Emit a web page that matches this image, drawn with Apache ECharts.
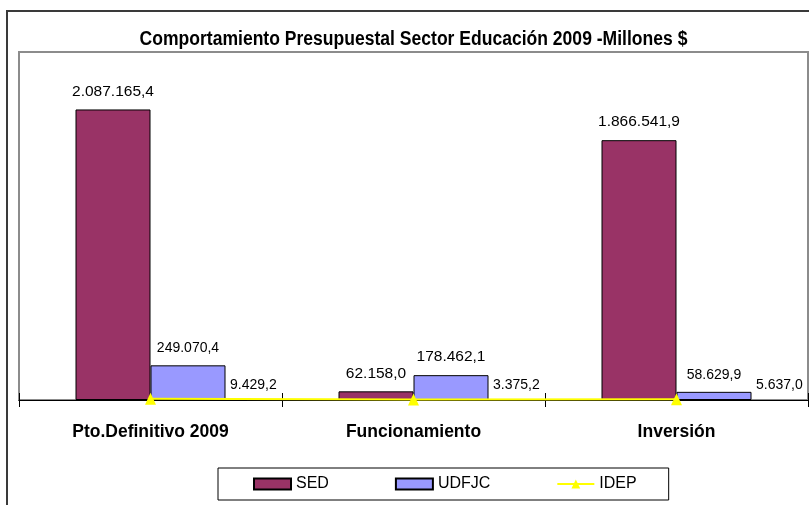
<!DOCTYPE html>
<html>
<head>
<meta charset="utf-8">
<script src="https://cdn.jsdelivr.net/npm/echarts@6/dist/echarts.min.js"></script>
<style>html,body{margin:0;padding:0;background:#fff}#c{width:809px;height:505px}</style>
</head>
<body>
<div id="c"></div>
<script>
var titleText = 'Comportamiento Presupuestal Sector Educación 2009 -Millones $';
var categories = ['Pto.Definitivo 2009', 'Funcionamiento', 'Inversión'];
var sedValues = [2087165.4, 62158.0, 1866541.9];
var udfjcValues = [249070.4, 178462.1, 58629.9];
var idepValues = [9429.2, 3375.2, 5637.0];
var seriesNames = ['SED', 'UDFJC', 'IDEP'];

function fmt(v) {
  var s = v.toFixed(1);
  var parts = s.split('.');
  var ip = parts[0].replace(/\B(?=(\d{3})+(?!\d))/g, '.');
  return ip + ',' + parts[1];
}

var REG = '"Liberation Sans", Arial, sans-serif';

var udfjcSizes = [14, 15.5, 14];

var chart = echarts.init(document.getElementById('c'), null, {renderer: 'canvas'});
chart.setOption({
  backgroundColor: '#ffffff',
  animation: false,
  graphic: [
    {type: 'rect', z: -10, shape: {x: 7, y: 11, width: 1000, height: 1000},
     style: {fill: 'none', stroke: '#3a3a3a', lineWidth: 2}},
    {type: 'text', z: 10, x: 413.5, y: 39, scaleX: 0.877, scaleY: 1,
     style: {text: titleText, align: 'center', verticalAlign: 'middle', fill: '#000',
             fontSize: 20, fontWeight: 'bold', fontFamily: REG}}
  ],
  grid: {left: 19, top: 52, right: 1, bottom: 105, show: true, borderColor: '#8c8c8c', borderWidth: 2, backgroundColor: '#fff'},
  legend: {
    left: 218, top: 468, orient: 'horizontal',
    padding: [8, 32, 8, 35], itemGap: 66,
    itemWidth: 37, itemHeight: 11,
    borderColor: '#000', borderWidth: 1,
    textStyle: {fontSize: 16, fontFamily: REG, color: '#000'},
    data: [{name: seriesNames[0], icon: 'rect'}, {name: seriesNames[1], icon: 'rect'}, {name: seriesNames[2]}]
  },
  xAxis: [
    {type: 'category', data: categories, position: 'bottom', boundaryGap: true,
     axisLine: {show: true, lineStyle: {color: '#000', width: 1}},
     axisTick: {show: true, length: 7, lineStyle: {color: '#000'}},
     axisLabel: {margin: 23, fontSize: 17.5, fontWeight: 'bold', fontFamily: REG, color: '#000'}},
    {type: 'category', data: categories, position: 'bottom', boundaryGap: true,
     axisLine: {show: false},
     axisTick: {show: true, inside: true, length: 7, lineStyle: {color: '#000'}},
     axisLabel: {show: false}}
  ],
  yAxis: {type: 'value', min: 0, max: 2500000, show: false, splitLine: {show: false}},
  series: [
    {name: seriesNames[0], type: 'bar', data: sedValues, barWidth: 75, barGap: '0%',
     itemStyle: {color: '#993366', borderColor: '#000', borderWidth: 1},
     label: {show: true, position: 'top', distance: 10, fontSize: 15.5, fontFamily: REG, color: '#000',
             formatter: function (p) { return fmt(p.value); }}},
    {name: seriesNames[1], type: 'bar', barWidth: 75, barGap: '0%',
     data: udfjcValues.map(function (v, i) {
       return {value: v, label: {fontSize: udfjcSizes[i]}};
     }),
     itemStyle: {color: '#9999FF', borderColor: '#000', borderWidth: 1},
     label: {show: true, position: 'top', distance: 10, fontSize: 14, fontFamily: REG, color: '#000',
             formatter: function (p) { return fmt(p.value); }}},
    {name: seriesNames[2], type: 'line', data: idepValues, z: 5,
     symbol: 'triangle', symbolSize: [11, 12],
     lineStyle: {color: '#FFFF00', width: 2},
     itemStyle: {color: '#FFFF00'},
     label: {show: true, position: 'right', distance: 5, offset: [69, -14], fontSize: 14, fontFamily: REG, color: '#000',
             formatter: function (p) { return fmt(p.value); }}}
  ]
});
</script>
</body>
</html>
